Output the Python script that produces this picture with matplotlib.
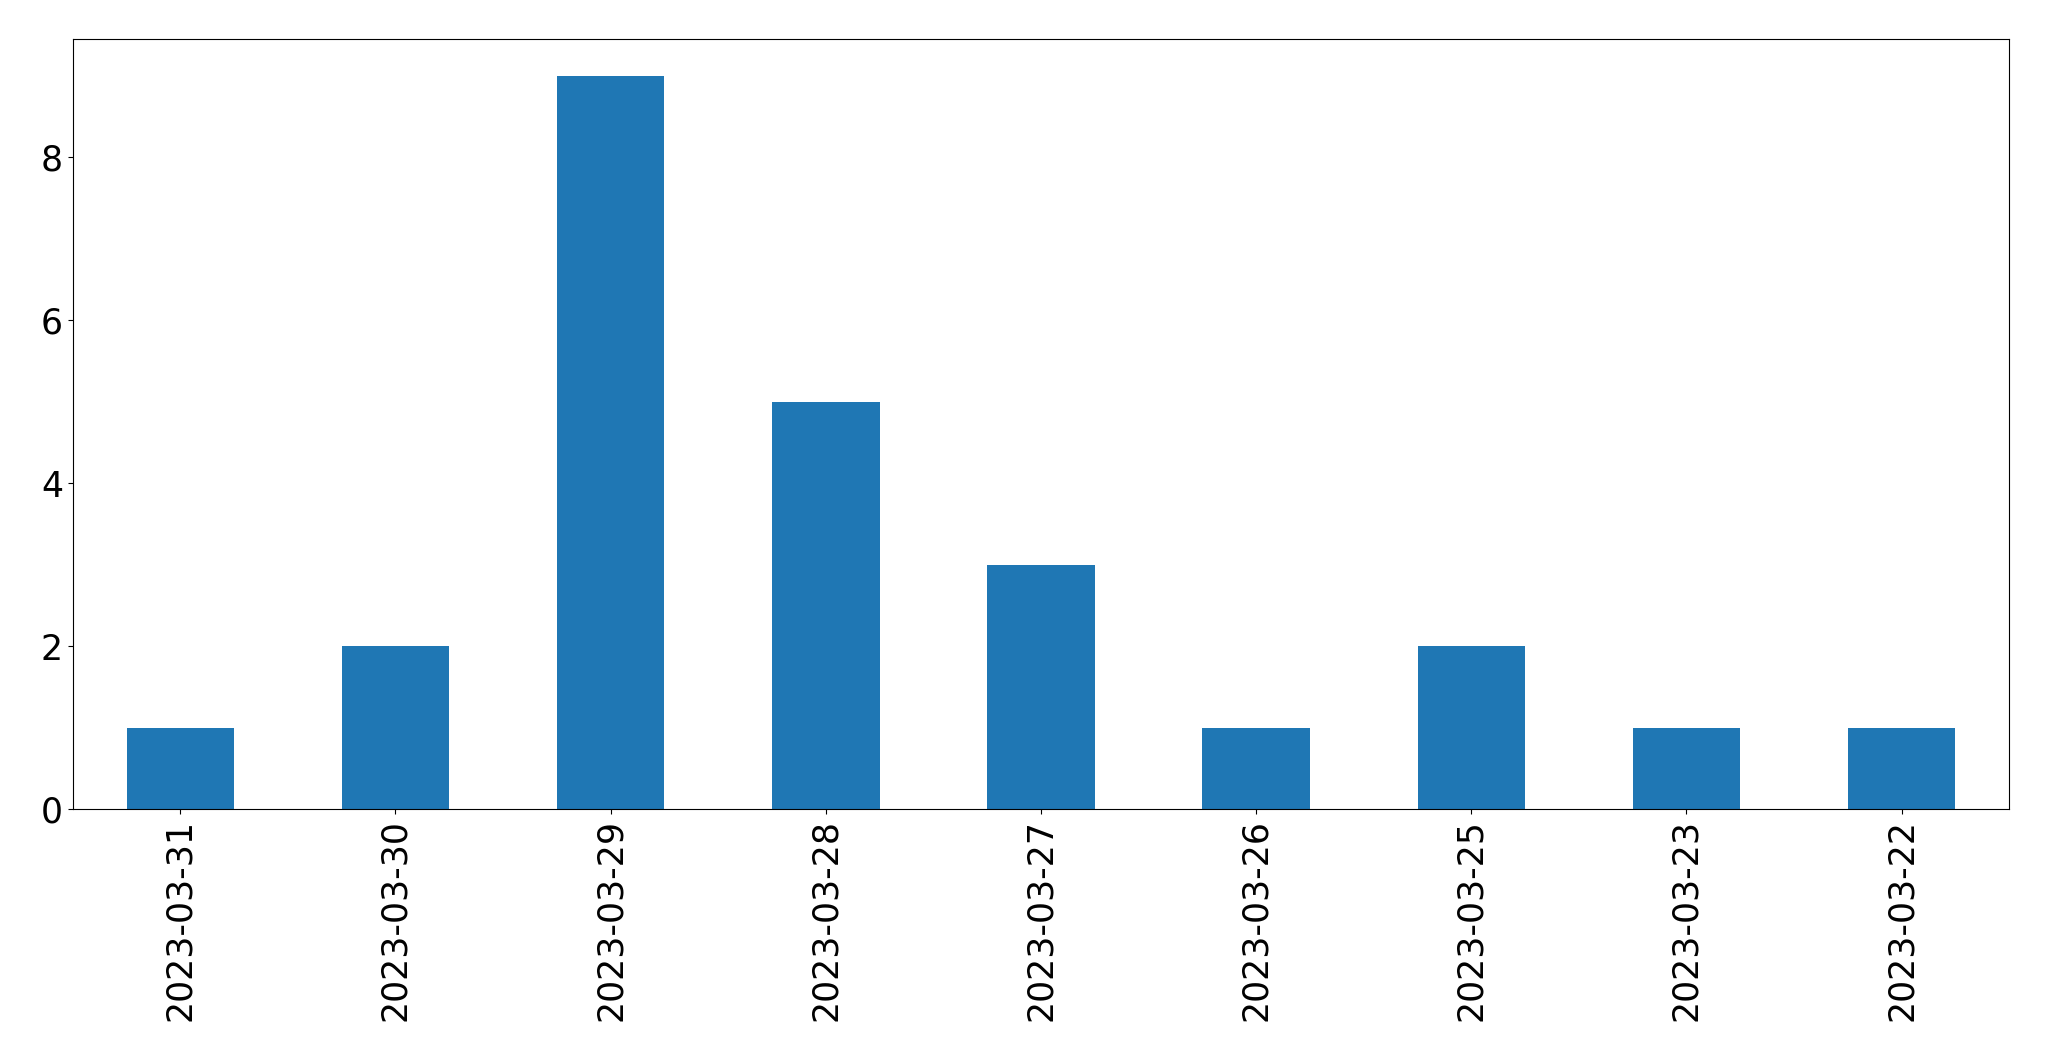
import matplotlib
matplotlib.use("Agg")
import matplotlib.pyplot as plt
import pandas as pd

dates = ["2023-03-31", "2023-03-30", "2023-03-29", "2023-03-28", "2023-03-27",
         "2023-03-26", "2023-03-25", "2023-03-23", "2023-03-22"]
counts = [1, 2, 9, 5, 3, 1, 2, 1, 1]

s = pd.Series(counts, index=dates)

fig = plt.figure(figsize=(20.49, 10.61), dpi=100)
ax = fig.add_axes([0.0355, 0.2375, 0.9451, 0.7255])
s.plot(kind="bar", ax=ax, color="#1f77b4")
ax.tick_params(axis="both", labelsize=25)
fig.savefig("out.png", dpi=100)
